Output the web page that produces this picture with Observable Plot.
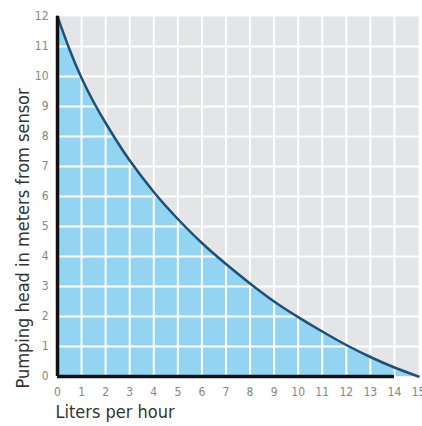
<!DOCTYPE html>
<html>
<head>
<meta charset="utf-8">
<script src="https://cdn.jsdelivr.net/npm/d3@7"></script>
<script src="https://cdn.jsdelivr.net/npm/@observablehq/plot@0.6"></script>
<style>
  html, body { margin: 0; padding: 0; background: #ffffff; }
  #chart svg { display: block; }
</style>
</head>
<body>
<div id="chart"></div>
<script>
// Flow rate (liters per hour) vs pumping head (meters)
const flow = [0, 0.5, 1, 1.5, 2, 2.5, 3, 4, 5, 6, 7, 8, 9, 10, 11, 12, 13, 14, 15];
const head = [12, 10.9, 9.95, 9.15, 8.45, 7.8, 7.2, 6.15, 5.25, 4.45, 3.75, 3.1, 2.5, 1.98, 1.5, 1.05, 0.65, 0.3, 0];
const xTicks = d3.range(0, 16);
const yTicks = d3.range(0, 13);
const xGrid = d3.range(1, 15);
const yGrid = d3.range(1, 12);
const xLabel = "Liters per hour";
const yLabel = "Pumping head in meters from sensor";

const data = flow.map((f, i) => ({flow: f, head: head[i]}));

const font = "'DejaVu Sans Condensed', 'Liberation Sans Narrow', sans-serif";

const chart = Plot.plot({
  width: 422,
  height: 426,
  marginLeft: 57,
  marginRight: 4,
  marginTop: 16,
  marginBottom: 50,
  style: {fontFamily: font, background: "#ffffff"},
  x: {domain: [0, 15]},
  y: {domain: [0, 12]},
  marks: [
    Plot.frame({fill: "#e4e5e7", stroke: null}),
    Plot.areaY(data, {x: "flow", y: "head", fill: "#93d4f3", curve: "natural"}),
    Plot.ruleX(xGrid, {stroke: "#ffffff", strokeWidth: 2}),
    Plot.ruleY(yGrid, {stroke: "#ffffff", strokeWidth: 2}),
    Plot.line(data, {x: "flow", y: "head", stroke: "#1d4f78", strokeWidth: 2.5, curve: "natural"}),
    Plot.ruleY([0], {x1: 0, x2: 14, stroke: "#111111", strokeWidth: 3.5}),
    Plot.ruleX([0], {stroke: "#111111", strokeWidth: 3.5}),
    Plot.axisX(xTicks, {tickSize: 0, tickPadding: 11, fontSize: 12, fill: "#858585", label: null}),
    Plot.axisY(yTicks, {tickSize: 0, tickPadding: 9, fontSize: 12, fill: "#858585", label: null}),
    Plot.text([yLabel], {frameAnchor: "bottom-left", rotate: -90, textAnchor: "start", lineAnchor: "middle", dx: -34, dy: 12, fontSize: 18, fill: "#333333"}),
    Plot.text([xLabel], {frameAnchor: "bottom-left", textAnchor: "start", lineAnchor: "middle", dx: -2, dy: 36, fontSize: 18, fill: "#333333"})
  ]
});
document.getElementById("chart").appendChild(chart);
</script>
</body>
</html>
